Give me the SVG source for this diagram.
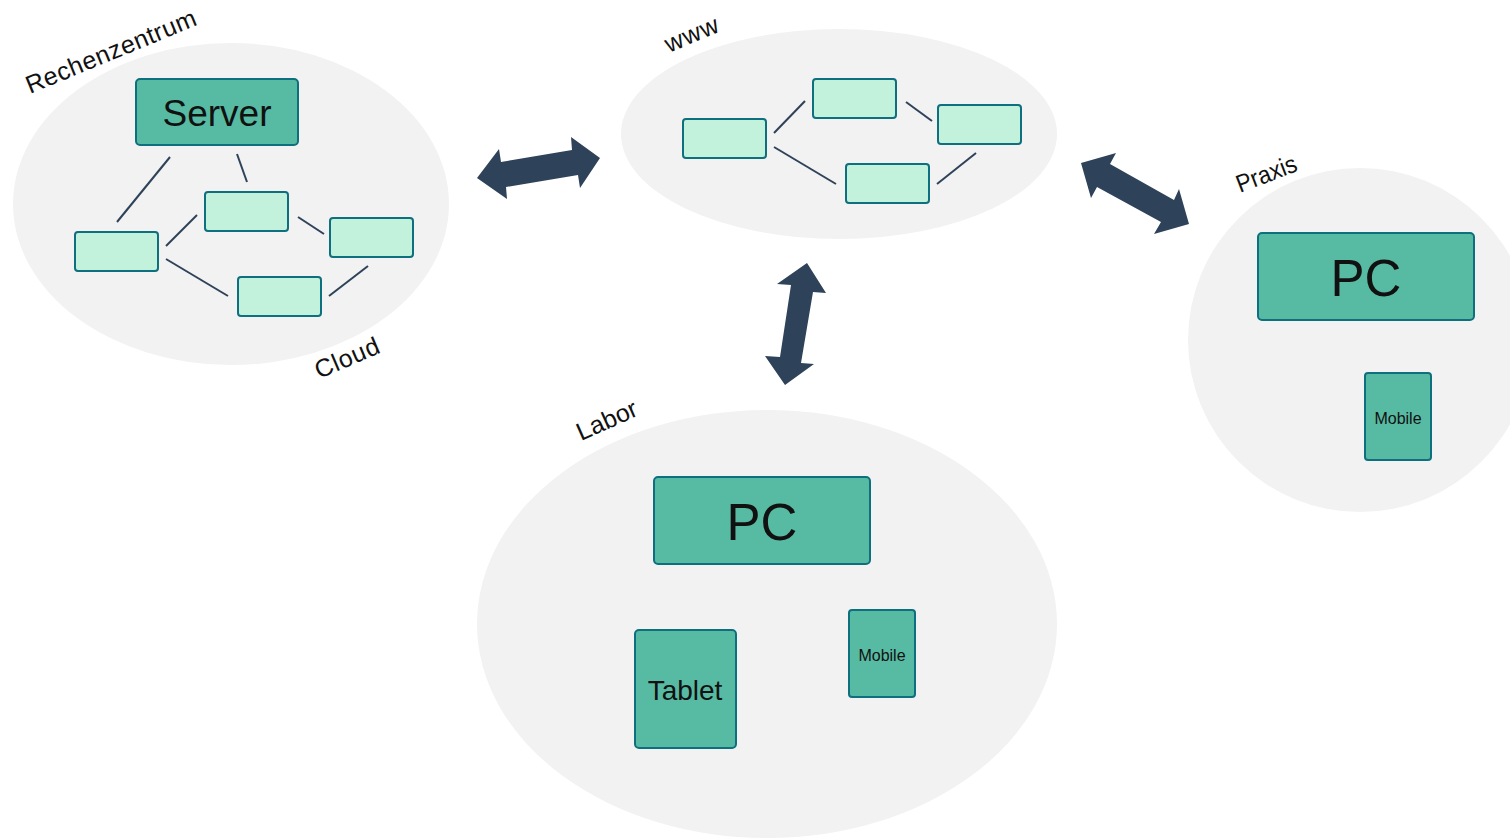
<svg xmlns="http://www.w3.org/2000/svg" width="1510" height="838" viewBox="0 0 1510 838">
<style>
.zone{fill:#F2F2F2}
.dev{fill:#57BBA3;stroke:#0E6F7E;stroke-width:2}
.sm{fill:#C3F2DC;stroke:#0E6F7E;stroke-width:2}
.ln{stroke:#2E4259;stroke-width:2;fill:none}
.arr{fill:#2E4259}
text{font-family:"Liberation Sans","DejaVu Sans",sans-serif;fill:#111}
.lbl{font-size:25px}
.c{text-anchor:middle}
</style>
<rect width="1510" height="838" fill="#fff"/>
<g id="zones">
<ellipse id="zone-rechenzentrum" class="zone" cx="231" cy="204" rx="218" ry="161"/>
<ellipse id="zone-www" class="zone" cx="839" cy="134" rx="218" ry="105"/>
<ellipse id="zone-praxis" class="zone" cx="1360" cy="340" rx="172" ry="172"/>
<ellipse id="zone-labor" class="zone" cx="767" cy="624" rx="290" ry="214"/>
</g>
<g id="labels">
<text class="lbl" transform="translate(30,94) rotate(-22.4)" textLength="182" lengthAdjust="spacing">Rechenzentrum</text>
<text class="lbl" transform="translate(319,379) rotate(-23)" textLength="68" lengthAdjust="spacing">Cloud</text>
<text class="lbl" transform="translate(669,53) rotate(-23)" textLength="56" lengthAdjust="spacing">www</text>
<text class="lbl" transform="translate(1240,193) rotate(-21)" textLength="63" lengthAdjust="spacingAndGlyphs">Praxis</text>
<text class="lbl" transform="translate(581,441) rotate(-24)" textLength="64" lengthAdjust="spacing">Labor</text>
</g>
<g id="connectors">
<line class="ln" x1="170" y1="157" x2="117" y2="222"/>
<line class="ln" x1="237" y1="154" x2="247" y2="182"/>
<line class="ln" x1="166" y1="246" x2="197" y2="215"/>
<line class="ln" x1="298" y1="217" x2="324" y2="234"/>
<line class="ln" x1="166" y1="259" x2="228" y2="296"/>
<line class="ln" x1="329" y1="296" x2="368" y2="266"/>
<line class="ln" x1="774" y1="133" x2="805" y2="101"/>
<line class="ln" x1="774" y1="147" x2="836" y2="184"/>
<line class="ln" x1="906" y1="102" x2="932" y2="121"/>
<line class="ln" x1="937" y1="184" x2="976" y2="153"/>
<polygon id="arrow-rz-www" class="arr" points="477,178 499,149 501,162 572,150 571,137 600,158 580,188 578,175 506,187 507,199"/>
<polygon id="arrow-www-labor" class="arr" points="807,263 777,284 791,285 780,357 765,356 785,385 814,364 801,363 813,292 826,293"/>
<polygon id="arrow-www-praxis" class="arr" points="1081,163 1116,153 1110,164 1174,200 1179,189 1189,224 1154,234 1161,222 1097,187 1091,198"/>
</g>
<g id="server">
<rect class="dev" x="136" y="79" width="162" height="66" rx="4"/>
<text class="c" x="217" y="126" font-size="37">Server</text>
</g>
<g id="rz-node-1"><rect class="sm" x="75" y="232" width="83" height="39" rx="3"/></g>
<g id="rz-node-2"><rect class="sm" x="205" y="192" width="83" height="39" rx="3"/></g>
<g id="rz-node-3"><rect class="sm" x="330" y="218" width="83" height="39" rx="3"/></g>
<g id="rz-node-4"><rect class="sm" x="238" y="277" width="83" height="39" rx="3"/></g>
<g id="www-node-1"><rect class="sm" x="683" y="119" width="83" height="39" rx="3"/></g>
<g id="www-node-2"><rect class="sm" x="813" y="79" width="83" height="39" rx="3"/></g>
<g id="www-node-3"><rect class="sm" x="938" y="105" width="83" height="39" rx="3"/></g>
<g id="www-node-4"><rect class="sm" x="846" y="164" width="83" height="39" rx="3"/></g>
<g id="praxis-pc">
<rect class="dev" x="1258" y="233" width="216" height="87" rx="4"/>
<text class="c" x="1366" y="296" font-size="51">PC</text>
</g>
<g id="praxis-mobile">
<rect class="dev" x="1365" y="373" width="66" height="87" rx="3"/>
<text class="c" x="1398" y="424" font-size="16">Mobile</text>
</g>
<g id="labor-pc">
<rect class="dev" x="654" y="477" width="216" height="87" rx="4"/>
<text class="c" x="762" y="540" font-size="51">PC</text>
</g>
<g id="labor-tablet">
<rect class="dev" x="635" y="630" width="101" height="118" rx="4"/>
<text class="c" x="685" y="700" font-size="28">Tablet</text>
</g>
<g id="labor-mobile">
<rect class="dev" x="849" y="610" width="66" height="87" rx="3"/>
<text class="c" x="882" y="661" font-size="16">Mobile</text>
</g>
</svg>
